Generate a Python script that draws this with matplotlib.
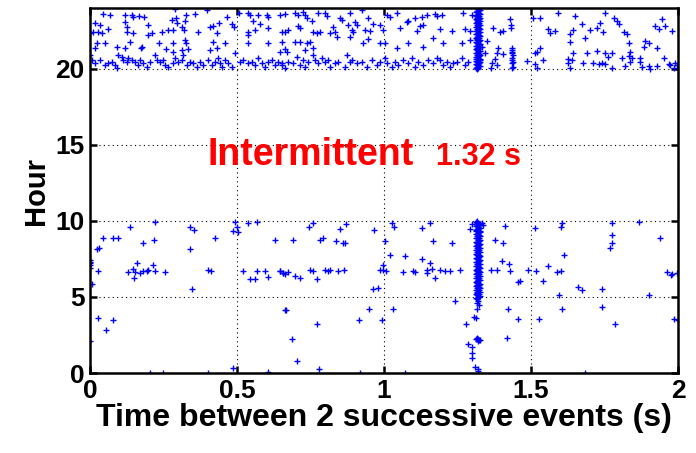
import matplotlib
matplotlib.use("Agg")
import matplotlib.pyplot as plt

plt.rcParams['font.family'] = ['Liberation Sans', 'DejaVu Sans']
plt.rcParams['font.weight'] = 'bold'

# evening events (20h-24h), scattered over the whole range
eve_x = [0.045, 0.068, 0.119, 0.142, 0.147, 0.167, 0.185, 0.289, 0.291, 0.326, 0.357, 0.397, 0.465, 0.507,
         0.539, 0.544, 0.570, 0.601, 0.607, 0.646,
         0.017, 0.034, 0.119, 0.125, 0.196, 0.280, 0.295, 0.312, 0.323, 0.408, 0.420, 0.439, 0.482, 0.491,
         0.556, 0.578, 0.607, 0.652,
         0.011, 0.028, 0.062, 0.125, 0.147, 0.198, 0.210, 0.246, 0.264, 0.283, 0.320, 0.366, 0.431, 0.539,
         0.539, 0.561, 0.000, 0.040,
         0.023, 0.051, 0.136, 0.178, 0.235, 0.283, 0.323, 0.325, 0.420, 0.459, 0.539, 0.607, 0.652,
         0.017, 0.091, 0.119, 0.173, 0.257, 0.283, 0.312, 0.334, 0.408, 0.431, 0.646,
         0.000, 0.006, 0.017, 0.034, 0.051, 0.062, 0.074, 0.085, 0.091, 0.096, 0.108, 0.113, 0.125, 0.130,
         0.142, 0.153, 0.164, 0.170, 0.181, 0.193, 0.204, 0.221, 0.227, 0.238, 0.249, 0.255, 0.266, 0.283,
         0.289, 0.300, 0.312, 0.317, 0.329, 0.340, 0.351, 0.363, 0.374, 0.385, 0.402, 0.414, 0.425, 0.437,
         0.442, 0.448, 0.459, 0.471, 0.482, 0.493, 0.510, 0.522, 0.539, 0.550, 0.561, 0.573, 0.584, 0.595,
         0.607, 0.618, 0.629, 0.641, 0.652,
         0.663, 0.697, 0.708, 0.725, 0.731, 0.737, 0.754, 0.776, 0.799, 0.805, 0.850, 0.856, 0.884, 0.924,
         0.946, 1.009, 1.020, 1.043, 1.083, 1.105, 1.128, 1.145, 1.173, 1.179, 1.196, 1.270, 1.300,
         0.663, 0.674, 0.708, 0.714, 0.759, 0.771, 0.782, 0.816, 0.827, 0.833, 0.878, 0.890, 0.895, 0.901,
         0.907, 0.935, 0.952, 0.963, 0.986, 0.997, 1.054, 1.077, 1.111, 1.122, 1.134, 1.190, 1.230, 1.275,
         1.292,
         0.697, 0.714, 0.737, 0.748, 0.759, 0.839, 0.884, 0.929, 0.946, 0.986, 1.003, 1.043, 1.083, 1.134,
         1.168, 1.202, 1.264, 1.292, 0.663, 0.669, 0.731,
         0.652, 0.663, 0.674, 0.691, 0.703, 0.714, 0.725, 0.731, 0.742, 0.759, 0.765, 0.776, 0.788, 0.799,
         0.810, 0.816, 0.833, 0.844, 0.867, 0.873, 0.884, 0.890, 0.907, 0.924, 0.941, 0.958, 0.975, 0.986,
         1.003, 1.009, 1.026, 1.037, 1.049, 1.066, 1.083, 1.094, 1.105, 1.117, 1.134, 1.151, 1.168, 1.179,
         1.190, 1.202, 1.213, 1.224, 1.236, 1.247, 1.264, 1.275, 1.287,
         1.372, 1.395, 1.406, 1.350, 1.333, 1.389, 1.384, 1.406, 1.344, 1.378, 1.367, 1.384, 1.364, 1.486,
         1.508, 1.531, 1.593, 1.650, 1.752, 1.781, 1.792, 1.798, 1.673, 1.701, 1.735, 1.724, 1.746, 1.559,
         1.565, 1.582, 1.644, 1.633, 1.684, 1.633, 1.815, 1.826, 1.832, 1.888, 1.900, 1.883, 1.928, 1.922,
         1.934, 1.945, 1.956, 1.979, 1.520, 1.514, 1.531, 1.542, 1.514, 1.520, 1.644, 1.690, 1.724, 1.752,
         1.775, 1.837, 1.832, 1.843, 1.837, 1.809, 1.763, 1.627, 1.639, 1.627, 1.633, 1.678, 1.712, 1.730,
         1.741, 1.752, 1.775, 1.820, 1.871, 1.871, 1.877, 1.900, 1.905, 1.928, 1.951, 1.968, 1.973, 1.990,
         1.996, 1.988]
eve_y = [23.62, 23.55, 23.55, 23.55, 23.44, 23.49, 23.44, 23.93, 23.33, 23.55, 23.62, 23.88, 23.44, 23.66,
         23.66, 23.55, 23.55, 23.55, 23.40, 23.55,
         23.00, 22.90, 23.10, 22.79, 22.90, 23.20, 23.00, 22.79, 23.18, 22.79, 22.83, 23.00, 22.96, 22.79,
         23.18, 22.96, 22.68, 22.46,
         22.46, 22.46, 22.61, 22.46, 22.39, 22.24, 22.35, 22.46, 22.57, 22.57, 22.57, 22.46, 22.35, 22.46,
         22.24, 22.57, 22.35, 22.35,
         21.73, 21.73, 21.80, 21.47, 21.73, 21.73, 21.90, 21.69, 21.80, 21.69, 21.69, 21.73, 21.80,
         21.36, 21.47, 21.36, 21.36, 21.30, 21.14, 21.25, 21.30, 21.25, 21.36, 21.14,
         20.92, 20.59, 20.37, 20.59, 20.26, 20.37, 20.48, 20.26, 20.04, 20.92, 20.81, 20.59, 20.48, 20.70,
         20.59, 20.48, 20.26, 20.59, 20.37, 20.15, 20.48, 20.92, 20.59, 20.48, 20.59, 20.26, 20.15, 20.37,
         20.70, 20.48, 20.59, 20.92, 20.26, 20.48, 20.37, 20.15, 20.48, 20.26, 20.59, 20.26, 20.48, 20.70,
         20.37, 20.15, 20.59, 20.37, 20.15, 21.03, 20.48, 20.59, 20.37, 20.48, 20.26, 20.70, 20.37, 20.15,
         20.48, 20.59, 20.26, 20.48, 20.37,
         23.62, 23.66, 23.55, 23.77, 23.55, 23.33, 23.18, 23.66, 23.66, 23.49, 23.33, 23.22, 23.66, 23.88,
         23.33, 23.55, 23.44, 23.70, 23.18, 23.33, 23.44, 23.55, 23.62, 23.49, 23.55, 23.66, 23.55,
         22.46, 22.57, 22.83, 22.68, 22.46, 22.35, 22.46, 22.35, 22.79, 22.46, 22.90, 22.57, 22.46, 23.11,
         22.90, 22.57, 22.52, 22.96, 22.90, 22.57, 22.68, 23.11, 22.52, 22.83, 22.90, 22.61, 22.52, 22.61,
         22.52,
         21.80, 21.80, 21.69, 21.80, 21.36, 22.08, 22.13, 21.69, 21.95, 21.73, 21.73, 21.36, 21.73, 21.43,
         22.02, 21.73, 21.73, 21.91, 21.30, 21.14, 21.25,
         20.26, 20.04, 20.48, 20.37, 20.81, 20.26, 20.59, 20.15, 20.48, 20.92, 20.59, 20.37, 20.70, 20.48,
         20.59, 20.15, 20.37, 20.48, 20.15, 20.92, 20.48, 20.59, 20.37, 20.48, 20.15, 20.59, 20.26, 20.48,
         20.70, 20.37, 20.15, 20.48, 20.26, 20.59, 20.37, 20.70, 20.15, 20.48, 20.26, 20.59, 20.37, 20.70,
         20.59, 20.26, 20.48, 20.15, 20.37, 20.48, 20.70, 20.26, 20.48,
         22.68, 22.46, 22.52, 21.87, 21.47, 21.36, 21.03, 20.99, 21.08, 20.64, 20.42, 20.26, 20.04, 20.55,
         23.33, 23.33, 23.66, 23.49, 23.66, 23.33, 23.18, 22.96, 22.96, 22.57, 23.00, 22.68, 22.46, 22.61,
         22.35, 22.50, 22.57, 22.30, 22.02, 21.80, 22.46, 22.30, 21.73, 21.87, 21.69, 21.47, 21.40, 22.83,
         22.61, 23.27, 22.83, 22.52, 21.14, 21.03, 21.36, 20.59, 20.33, 20.04, 21.08, 21.03, 21.20, 21.08,
         21.03, 21.14, 20.86, 20.70, 20.48, 20.70, 20.81, 20.64, 20.59, 20.37, 20.04, 20.42, 20.37, 20.33,
         20.37, 20.31, 20.04, 20.20, 20.70, 20.48, 20.15, 20.20, 20.00, 20.20, 20.70, 20.33, 20.26, 20.42,
         20.26, 20.04]

# second burst near 1.44 s in the evening
burst_x = [1.429, 1.432, 1.432, 1.435, 1.437, 1.435, 1.437, 1.440, 1.435, 1.437, 1.440, 1.435, 1.440, 1.437]
burst_y = [23.27, 22.90, 22.68, 21.36, 21.25, 21.14, 21.03, 20.92, 20.70, 20.59, 20.48, 20.37, 20.15, 20.04]

# intermittent period at 1.32 s, evening
per_eve_y = [20.02, 20.08, 20.15, 20.21, 20.27, 20.33, 20.40, 20.46, 20.51, 20.58, 20.64, 20.71, 20.77,
             20.82, 20.89, 20.95, 21.01, 21.08, 21.13, 21.20, 21.26, 21.31, 21.38, 21.45, 21.50, 21.57,
             21.63, 21.69, 21.74, 21.81, 21.88, 21.93, 22.00, 22.06, 22.12, 22.19, 22.24, 22.31, 22.37,
             22.42, 22.49, 22.55, 22.61, 22.68, 22.73, 22.80, 22.86, 22.92, 22.98, 23.04, 23.11, 23.16,
             23.23, 23.29, 23.35, 23.41, 23.47, 23.54, 23.59, 23.66, 23.72, 23.78, 23.84, 23.91, 23.97,
             20.05, 20.18, 20.30, 20.43, 20.55, 20.68, 20.80, 20.93, 21.05, 21.17, 21.29, 21.42, 21.54,
             21.66, 21.78, 21.91, 22.03, 22.15, 22.28, 22.40, 22.52, 22.65, 22.77, 22.89, 23.01, 23.14,
             23.26, 23.38, 23.51, 23.63, 23.75, 23.88, 23.99]
per_eve_x = [1.315, 1.321, 1.318, 1.324, 1.316, 1.320, 1.323, 1.317, 1.319, 1.325, 1.314, 1.321, 1.318,
             1.322, 1.316, 1.320, 1.324, 1.317, 1.319, 1.323, 1.315, 1.321, 1.318, 1.322, 1.316, 1.320,
             1.324, 1.317, 1.319, 1.323, 1.315, 1.321, 1.318, 1.322, 1.316, 1.320, 1.324, 1.317, 1.319,
             1.323, 1.315, 1.321, 1.318, 1.322, 1.316, 1.320, 1.324, 1.317, 1.319, 1.323, 1.315, 1.321,
             1.318, 1.322, 1.316, 1.320, 1.324, 1.317, 1.319, 1.323, 1.315, 1.321, 1.318, 1.322, 1.320,
             1.313, 1.326, 1.314, 1.327, 1.313, 1.326, 1.314, 1.327, 1.313, 1.326, 1.314, 1.327, 1.313,
             1.326, 1.314, 1.327, 1.313, 1.326, 1.314, 1.327, 1.313, 1.326, 1.314, 1.327, 1.313, 1.326,
             1.314, 1.327, 1.313, 1.326, 1.314, 1.327, 1.320]

# morning events (0h-10h)
morn_x = [0.136, 0.221, 0.045, 0.079, 0.096, 0.181, 0.219, 0.340, 0.355, 0.425, 0.031, 0.023, 0.340,
          0.000, 0.000, 0.000, 0.000, 0.000, 0.028, 0.130, 0.147, 0.153, 0.159, 0.170, 0.181, 0.193,
          0.198, 0.215, 0.221, 0.255, 0.151, 0.402, 0.412, 0.346, 0.006, 0.028, 0.079, 0.053, 0.000,
          0.204, 0.249, 0.400, 0.488, 0.493, 0.499, 0.488, 0.505, 0.539, 0.567, 0.629, 0.522, 0.544,
          0.561, 0.567, 0.595, 0.607, 0.646, 0.658, 0.663, 0.607,
          0.746, 0.759, 0.850, 0.870, 0.691, 0.782, 0.793, 0.836, 0.859, 0.867, 0.966, 1.026, 1.034,
          1.128, 1.156, 1.298, 1.292, 1.003, 1.168, 1.233, 1.020, 1.071, 1.131, 1.156, 0.997, 0.646,
          0.657, 0.663, 0.674, 0.697, 0.714, 0.748, 0.759, 0.771, 0.799, 0.810, 0.816, 0.844, 0.864,
          0.986, 0.997, 1.007, 1.063, 1.097, 1.105, 1.145, 1.147, 1.162, 1.190, 1.207, 1.224, 1.260,
          1.173, 0.963, 0.980, 1.241, 0.666, 0.950, 1.031, 0.916, 0.992, 0.771, 0.686, 0.705, 0.780,
          0.918, 1.071, 1.307, 1.279, 1.287, 1.298, 1.301, 1.298, 1.309,
          1.333, 1.338, 1.410, 1.512, 1.607, 1.603, 1.777, 1.866, 1.777, 1.775, 1.769, 1.939, 1.378,
          1.406, 1.614, 1.403, 1.426, 1.429, 1.364, 1.384, 1.491, 1.516, 1.559, 1.588, 1.603, 1.457,
          1.463, 1.542, 1.659, 1.675, 1.741, 1.902, 1.596, 1.962, 1.977, 1.981, 1.607, 1.423, 1.743,
          1.457, 1.528, 1.786, 1.988, 1.418, 1.684, 1.998, 1.999]
morn_y = [9.62, 9.95, 8.86, 8.86, 8.86, 8.53, 8.75, 9.58, 9.40, 8.86, 8.20, 8.13, 8.13,
          7.43, 7.32, 7.21, 7.10, 6.88, 6.73, 6.66, 6.82, 6.66, 7.25, 6.60, 6.71, 6.73,
          6.77, 7.10, 6.73, 6.66, 6.22, 6.77, 6.73, 5.52, 5.85, 3.59, 3.48, 2.83, 2.12,
          0.00, 0.00, 0.00, 0.30, 9.95, 9.62, 9.36, 9.29, 9.89, 9.95, 8.75, 6.73, 6.16,
          6.16, 6.73, 6.73, 6.29, 6.73, 6.55, 4.14, 0.08,
          9.58, 9.89, 9.45, 9.80, 8.75, 8.75, 8.86, 8.70, 8.57, 8.53, 9.40, 9.89, 9.58,
          9.51, 9.89, 9.80, 9.45, 8.70, 8.70, 8.53, 7.76, 7.70, 7.47, 7.25, 7.10, 6.73,
          6.60, 6.51, 6.66, 6.38, 6.22, 6.77, 6.73, 6.16, 6.77, 6.73, 6.77, 6.73, 6.77,
          6.77, 6.77, 6.73, 6.64, 6.73, 6.66, 6.77, 6.60, 6.82, 6.77, 6.71, 6.73, 6.77,
          6.22, 5.50, 5.61, 4.76, 4.14, 4.21, 4.21, 3.48, 3.48, 3.20, 2.21, 0.79, 0.24,
          0.00, 0.00, 3.70, 3.20, 1.88, 1.73, 1.29, 0.96, 0.41,
          9.89, 9.73, 9.67, 9.51, 9.89, 9.58, 9.89, 9.95, 9.08, 8.57, 8.20, 8.86, 8.75,
          8.53, 7.76, 7.39, 7.17, 6.73, 6.77, 6.77, 6.77, 6.73, 7.04, 6.66, 6.73, 6.00,
          6.07, 6.07, 5.63, 5.46, 5.50, 5.13, 5.13, 6.66, 6.44, 6.51, 4.21, 4.19, 4.36,
          3.53, 3.53, 3.22, 3.53, 2.28, 0.02, 6.60, 3.50]

# intermittent period at 1.32 s, morning
per_morn_y = [9.97, 9.90, 9.84, 9.77, 9.71, 9.63, 9.57, 9.50, 9.44, 9.37, 9.31, 9.24, 9.17, 9.11,
              9.04, 8.98, 8.91, 8.85, 8.78, 8.71, 8.65, 8.58, 8.52, 8.45, 8.39, 8.32, 8.25, 8.19,
              8.12, 8.06, 7.99, 7.93, 7.86, 7.79, 7.73, 7.66, 7.60, 7.53, 7.47, 7.40, 7.33, 7.27,
              7.20, 7.14, 7.07, 7.01, 6.94, 6.87, 6.81, 6.74, 6.68, 6.61, 6.55, 6.48, 6.41, 6.35,
              6.28, 6.22, 6.15, 6.09, 6.02, 5.95, 5.89, 5.82, 5.76, 5.69, 5.63, 5.56, 5.49, 5.43,
              5.36, 5.30, 5.23, 5.17, 5.10, 5.03, 4.97, 4.90, 4.75, 4.60, 4.45, 4.19, 3.60,
              2.31, 2.26, 2.22, 2.17, 2.12, 0.24, 0.10,
              9.93, 9.80, 9.67, 9.54, 9.41, 9.28, 9.14, 9.01, 8.88, 8.75, 8.62, 8.48, 8.35, 8.22,
              8.09, 7.96, 7.82, 7.69, 7.56, 7.43, 7.30, 7.16, 7.03, 6.90, 6.77, 6.64, 6.50, 6.37,
              6.24, 6.11, 5.98, 5.84, 5.71, 5.58, 5.45, 5.32, 5.18, 5.05, 4.92, 2.24, 2.19]
per_morn_x = [1.315, 1.321, 1.318, 1.324, 1.316, 1.320, 1.323, 1.317, 1.319, 1.325, 1.314, 1.321,
              1.318, 1.322, 1.316, 1.320, 1.324, 1.317, 1.319, 1.323, 1.315, 1.321, 1.318, 1.322,
              1.316, 1.320, 1.324, 1.317, 1.319, 1.323, 1.315, 1.321, 1.318, 1.322, 1.316, 1.320,
              1.324, 1.317, 1.319, 1.323, 1.315, 1.321, 1.318, 1.322, 1.316, 1.320, 1.324, 1.317,
              1.319, 1.323, 1.315, 1.321, 1.318, 1.322, 1.316, 1.320, 1.324, 1.317, 1.319, 1.323,
              1.315, 1.321, 1.318, 1.322, 1.316, 1.320, 1.324, 1.317, 1.319, 1.323, 1.315, 1.321,
              1.318, 1.322, 1.316, 1.320, 1.324, 1.317, 1.321, 1.318, 1.323, 1.316, 1.314,
              1.316, 1.321, 1.318, 1.323, 1.319, 1.321, 1.319,
              1.313, 1.326, 1.314, 1.327, 1.313, 1.326, 1.314, 1.327, 1.313, 1.326, 1.314, 1.327,
              1.313, 1.326, 1.314, 1.327, 1.313, 1.326, 1.314, 1.327, 1.313, 1.326, 1.314, 1.327,
              1.313, 1.326, 1.314, 1.327, 1.313, 1.326, 1.314, 1.327, 1.313, 1.326, 1.314, 1.327,
              1.313, 1.326, 1.314, 1.313, 1.326]

x_ticks = [0, 0.5, 1, 1.5, 2]
x_ticklabels = ['0', '0.5', '1', '1.5', '2']
y_ticks = [0, 5, 10, 15, 20]
period = 1.32

fig = plt.figure(figsize=(6.96, 4.53), dpi=100)
ax = fig.add_axes([0.1293, 0.1766, 0.8448, 0.8054])

style = dict(linestyle='none', marker='+', color='#0000ff', markersize=4.6, markeredgewidth=1.0)
for xs, ys in [(eve_x, eve_y), (burst_x, burst_y), (per_eve_x, per_eve_y),
               (morn_x, morn_y), (per_morn_x, per_morn_y)]:
    ax.plot(xs, ys, clip_on=True, **style)

ax.set_xlim(0, 2)
ax.set_ylim(0, 24)
ax.set_xticks(x_ticks)
ax.set_xticklabels(x_ticklabels)
ax.set_yticks(y_ticks)
ax.grid(True, linestyle=(0, (1, 3)), color='black', linewidth=0.8)
ax.set_axisbelow(True)

for sp in ax.spines.values():
    sp.set_linewidth(1.8)
ax.tick_params(direction='in', length=5, width=1.8, top=True, right=True,
               labelsize=19, pad=4)
for lab in ax.get_xticklabels() + ax.get_yticklabels():
    lab.set_fontweight('bold')

ax.set_xlabel('Time between 2 successive events (s)', fontsize=23, fontweight='bold', labelpad=0)
ax.set_ylabel('Hour', fontsize=21, fontweight='bold', labelpad=4)

ax.text(0.40, 13.7, 'Intermittent', color='red', fontsize=27, fontweight='bold')
ax.text(1.178, 13.7, '%.2f s' % period, color='red', fontsize=22, fontweight='bold')

fig.savefig('out.png', dpi=100)
